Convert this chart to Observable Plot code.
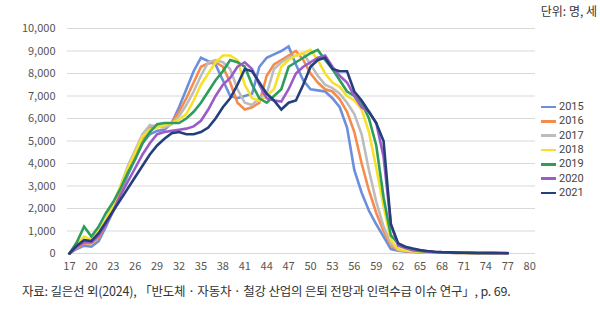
<!DOCTYPE html>
<html>
<head>
<meta charset="utf-8">
<script src="https://cdn.jsdelivr.net/npm/d3@7"></script>
<script src="https://cdn.jsdelivr.net/npm/@observablehq/plot@0.6"></script>
<style>
  html, body { margin: 0; padding: 0; background: #fff; }
  body { width: 600px; height: 321px; position: relative; overflow: hidden; font-family: "Noto Sans CJK KR", "Noto Sans", sans-serif; }
  #chart { position: absolute; left: 0; top: 12px; z-index: 1; }
  #unit { position: absolute; right: 3px; top: 3px; font-size: 12px; line-height: 16px; color: #333; z-index: 2; }
  #legend { position: absolute; left: 541px; top: 100px; font-size: 11px; color: #444; z-index: 2; font-family: Roboto, "Liberation Sans", sans-serif; }
  #legend .item { height: 14.3px; line-height: 12px; display: flex; align-items: center; }
  #legend .sw { width: 15px; height: 2.5px; margin-right: 3px; }
  #caption { position: absolute; left: 22px; top: 282px; font-size: 12.5px; line-height: 18px; color: #333; letter-spacing: -0.2px; white-space: nowrap; z-index: 2; }
</style>
</head>
<body>
<div id="chart"></div>
<div id="unit">단위: 명, 세</div>
<div id="legend"></div>
<div id="caption">자료: 길은선 외(2024), 「반도체 · 자동차 · 철강 산업의 은퇴 전망과 인력수급 이슈 연구」, p. 69.</div>
<script>
const ages = [17,18,19,20,21,22,23,24,25,26,27,28,29,30,31,32,33,34,35,36,37,38,39,40,41,42,43,44,45,46,47,48,49,50,51,52,53,54,55,56,57,58,59,60,61,62,63,64,65,66,67,68,69,70,71,72,73,74,75,76,77];
const xTicks = [17,20,23,26,29,32,35,38,41,44,47,50,53,56,59,62,65,68,71,74,77,80];
const yTicks = [0,1000,2000,3000,4000,5000,6000,7000,8000,9000,10000];
const years = ["2015","2016","2017","2018","2019","2020","2021"];
const colors = ["#6b8fdc","#f58b4c","#bcbcbc","#f7e02a","#2e9d5c","#9b5cc9","#243f7c"];

const s2015 = [0,200,350,300,550,1200,1900,2700,3500,4200,4900,5300,5450,5500,5800,6500,7300,8100,8700,8550,8400,7700,7000,6900,7000,7100,8300,8700,8850,9000,9200,8400,7700,7300,7250,7200,6900,6500,5600,3700,2700,1900,1300,750,200,120,90,70,60,50,40,35,30,25,20,15,10,10,5,5,0];
const s2016 = [0,250,450,450,700,1300,2000,2800,3700,4400,5100,5600,5650,5600,5800,6300,6900,7600,8300,8450,8500,8300,7600,6700,6400,6500,6700,7900,8400,8600,8800,9000,8600,8000,7600,7300,7200,6850,6300,5400,4000,2800,1800,1000,350,150,100,80,60,50,40,35,30,25,20,15,10,10,5,5,0];
const s2017 = [0,300,600,500,900,1500,2200,3000,3900,4600,5300,5700,5650,5600,5750,6100,6600,7200,7900,8500,8600,8500,8200,7300,6700,6600,6900,7100,8200,8500,8700,8800,8900,8400,7900,7500,7350,7100,6700,6200,5300,3700,2300,1200,450,170,120,90,70,55,45,40,30,25,20,15,15,10,5,5,0];
const s2018 = [0,400,750,600,1000,1500,2200,3000,3800,4500,5200,5500,5600,5700,5800,5950,6200,6800,7500,8000,8500,8800,8800,8600,7500,6900,6800,7000,7300,8300,8600,8800,8900,9050,8600,8000,7600,7400,7000,6800,6400,5400,3800,2100,600,200,130,100,80,60,50,40,35,30,20,15,15,10,10,5,0];
const s2019 = [0,500,1200,750,1200,1800,2300,2900,3600,4200,4900,5400,5750,5800,5800,5800,6000,6300,6700,7200,7700,8100,8600,8500,8300,7500,6900,6700,7000,7300,8300,8500,8700,8900,9050,8600,8200,7700,7200,7000,6700,6000,4800,2500,800,450,250,150,110,80,60,50,40,35,30,25,20,30,30,20,10];
const s2020 = [0,300,500,500,800,1300,1900,2600,3200,3800,4400,4900,5300,5400,5450,5500,5550,5650,5900,6400,7000,7500,7800,8300,8500,8200,7500,6900,6800,6750,7300,8000,8300,8500,8700,8800,8300,7900,7600,7000,6500,6300,5800,4300,1300,350,250,170,120,90,70,55,45,35,30,25,20,20,15,10,5];
const s2021 = [0,350,600,550,900,1400,1900,2400,2900,3400,3900,4400,4800,5100,5350,5400,5300,5300,5400,5600,6000,6500,6900,7500,8200,8100,7600,7100,6800,6400,6700,6800,7500,8300,8600,8700,8200,8100,8100,7200,6800,6300,5800,5000,1300,450,300,220,150,110,80,60,50,40,35,30,25,20,20,20,20];

const series = [s2015, s2016, s2017, s2018, s2019, s2020, s2021];
const data = [];
series.forEach((s, i) => s.forEach((v, j) => data.push({year: years[i], age: ages[j], value: v})));

const W = 600, H = 268;
const chart = Plot.plot({
  width: W,
  height: H,
  marginTop: 16,
  marginBottom: 27,
  marginLeft: 67,
  marginRight: 65,
  style: { fontFamily: "'Noto Sans CJK KR', 'Noto Sans', sans-serif", fontSize: "11px", color: "#555", background: "transparent", overflow: "visible" },
  x: { domain: [16.73, 80.8], ticks: xTicks, tickSize: 0, tickPadding: 9, label: null },
  y: { domain: [0, 10000], ticks: yTicks, tickSize: 0, tickPadding: 12, tickFormat: d3.format(","), label: null },
  color: { domain: years, range: colors },
  marks: [
    Plot.gridY(yTicks, { stroke: "#d9d9d9", strokeOpacity: 1, strokeWidth: 1 }),
    Plot.axisY({ ticks: yTicks, tickSize: 0, tickPadding: 12, tickFormat: d3.format(","), label: null }),
    Plot.axisX({ ticks: xTicks, tickSize: 0, tickPadding: 9, label: null }),
    Plot.line(data, { x: "age", y: "value", z: "year", stroke: "year", strokeWidth: 2.6, strokeLinejoin: "miter", strokeMiterlimit: 2 })
  ]
});
document.getElementById("chart").appendChild(chart);

const legend = document.getElementById("legend");
years.forEach((y, i) => {
  const it = document.createElement("div");
  it.className = "item";
  const sw = document.createElement("span");
  sw.className = "sw";
  sw.style.background = colors[i];
  const t = document.createElement("span");
  t.textContent = y;
  it.appendChild(sw); it.appendChild(t);
  legend.appendChild(it);
});
</script>
</body>
</html>
